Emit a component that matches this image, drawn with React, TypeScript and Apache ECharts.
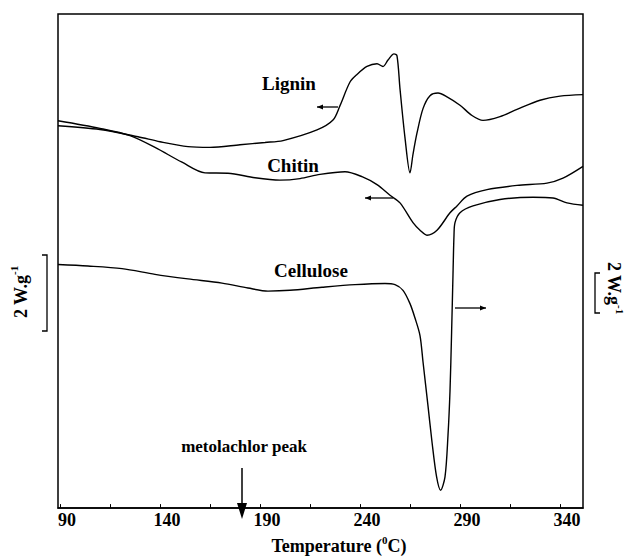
import React, { useEffect, useRef } from "react";
import * as echarts from "echarts";

// Temperature (°C) and heat flow (W/g, arbitrary offset)
const ligninT = [89, 110, 129, 140, 154, 165, 180, 192.5, 201.5, 218.5, 226.5, 230, 235, 238.5, 243.5, 248.5, 251.5, 254, 257, 258.5, 260, 262.5, 265, 266.5, 268.5, 271.5, 275, 279, 283.5, 290, 296, 301.5, 310, 318.5, 330, 340, 351.5];
const ligninV = [10.06, 9.96, 9.77, 9.64, 9.51, 9.49, 9.56, 9.62, 9.67, 9.95, 10.21, 10.59, 11.21, 11.41, 11.62, 11.69, 11.62, 11.79, 11.95, 11.9, 11.03, 9.74, 8.82, 9.31, 9.87, 10.51, 10.85, 10.92, 10.82, 10.6, 10.33, 10.2, 10.3, 10.49, 10.73, 10.84, 10.88];

const chitinT = [89, 110, 125, 137.5, 151, 162.5, 174, 187.5, 200, 210, 220, 232.5, 241, 248.5, 255, 260, 266.5, 270, 273.5, 278.5, 285, 288.5, 293.5, 303.5, 318.5, 333.5, 341.5, 351.5];
const chitinV = [10.19, 9.99, 9.8, 9.49, 9.1, 8.82, 8.81, 8.69, 8.63, 8.67, 8.78, 8.85, 8.72, 8.51, 8.23, 8.03, 7.51, 7.31, 7.18, 7.31, 7.77, 7.95, 8.21, 8.38, 8.49, 8.55, 8.68, 8.99];

const celluloseT = [89, 104, 121, 137.5, 154, 171, 184, 194, 205, 221, 237.5, 252.5, 257.5, 261.5, 265, 267.5, 270, 271.5, 274, 276, 278.3, 280.3, 282.5, 284, 285, 285.8, 286.5, 287, 287.5, 290, 296.5, 310, 326.5, 336.5, 343.5, 351.5];
const celluloseV = [6.41, 6.37, 6.3, 6.15, 6.03, 5.92, 5.79, 5.71, 5.73, 5.81, 5.88, 5.91, 5.88, 5.73, 5.38, 5.0, 4.54, 3.85, 2.69, 1.74, 0.82, 0.47, 0.82, 1.92, 3.08, 4.62, 6.15, 7.18, 7.51, 7.77, 7.95, 8.12, 8.18, 8.16, 8.03, 7.97];

const xLabelValues = [90, 140, 190, 240, 290, 340];
const xTickValues = [90, 115, 140, 165, 190, 215, 240, 265, 290, 315, 340];

const SERIF = '"Liberation Serif", "Times New Roman", serif';

function pairs(t: number[], v: number[]) {
  return t.map((x, i) => [x, v[i]]);
}

function arrowH(x1: number, x2: number, y: number, headLeft: boolean) {
  const tip = headLeft ? x1 : x2;
  const dir = headLeft ? 1 : -1;
  return [
    { type: "line", shape: { x1, y1: y, x2, y2: y }, style: { stroke: "#000", lineWidth: 1.3 }, silent: true },
    {
      type: "polygon",
      shape: { points: [[tip, y], [tip + dir * 6, y - 2.5], [tip + dir * 6, y + 2.5]] },
      style: { fill: "#000" },
      silent: true,
    },
  ];
}

export default function App() {
  const ref = useRef<HTMLDivElement>(null);

  useEffect(() => {
    if (!ref.current) return;
    const chart = echarts.init(ref.current, null, { renderer: "svg" });

    const lineSeries = (name: string, t: number[], v: number[]) => ({
      name,
      type: "line",
      data: pairs(t, v),
      showSymbol: false,
      smooth: 0.3,
      silent: true,
      lineStyle: { color: "#000", width: 1.4 },
    });

    const labelFont = (size: number) => `bold ${size}px ${SERIF}`;
    const sideLabel = (x: number, y: number, rotation: number) => ({
      type: "text",
      x,
      y,
      rotation,
      style: {
        text: "{a|2 W.g}{s|-1}",
        align: "center",
        verticalAlign: "middle",
        fill: "#000",
        rich: {
          a: { font: labelFont(18), fill: "#000", lineHeight: 21, verticalAlign: "bottom" },
          s: { font: labelFont(11), fill: "#000", lineHeight: 11, verticalAlign: "top" },
        },
      },
      silent: true,
    });

    const option: any = {
      animation: false,
      backgroundColor: "#fff",
      grid: {
        left: 58,
        top: 14,
        width: 525,
        height: 506,
        show: true,
        borderColor: "#000",
        borderWidth: 1.5,
        backgroundColor: "transparent",
      },
      xAxis: {
        type: "value",
        min: 89,
        max: 351.5,
        axisLine: { show: true, lineStyle: { color: "#000", width: 1.5 } },
        axisTick: {
          show: true,
          inside: true,
          length: 4,
          customValues: xTickValues,
          lineStyle: { color: "#000", width: 1 },
        },
        axisLabel: {
          customValues: xLabelValues,
          color: "#000",
          fontSize: 18,
          fontWeight: "bold",
          fontFamily: SERIF,
          margin: 3,
          padding: [0, 0, 0, 14],
        },
        splitLine: { show: false },
        name: "{a|Temperature (}{s|0}{a|C)}",
        nameLocation: "middle",
        nameGap: 24,
        nameTextStyle: {
          padding: [0, 0, 0, 37],
          rich: {
            a: { fontSize: 18, fontWeight: "bold", fontFamily: SERIF, color: "#000", lineHeight: 21, verticalAlign: "bottom" },
            s: { fontSize: 11, fontWeight: "bold", fontFamily: SERIF, color: "#000", lineHeight: 11, verticalAlign: "top" },
          },
        },
      },
      yAxis: {
        type: "value",
        min: 0,
        max: 13,
        axisLine: { show: false },
        axisTick: { show: false },
        axisLabel: { show: false },
        splitLine: { show: false },
      },
      series: [
        lineSeries("Lignin", ligninT, ligninV),
        lineSeries("Chitin", chitinT, chitinV),
        lineSeries("Cellulose", celluloseT, celluloseV),
      ],
      graphic: [
        { type: "text", x: 289, y: 83, style: { text: "Lignin", font: labelFont(19), fill: "#000", align: "center", verticalAlign: "middle" }, silent: true },
        { type: "text", x: 293, y: 165, style: { text: "Chitin", font: labelFont(19), fill: "#000", align: "center", verticalAlign: "middle" }, silent: true },
        { type: "text", x: 311, y: 270, style: { text: "Cellulose", font: labelFont(19), fill: "#000", align: "center", verticalAlign: "middle" }, silent: true },
        { type: "text", x: 244, y: 446, style: { text: "metolachlor peak", font: labelFont(17), fill: "#000", align: "center", verticalAlign: "middle" }, silent: true },
        ...arrowH(317, 338, 107, true),
        ...arrowH(365, 393, 198, true),
        ...arrowH(455, 486, 308, false),
        { type: "line", shape: { x1: 242, y1: 468, x2: 242, y2: 506 }, style: { stroke: "#000", lineWidth: 1.5 }, silent: true },
        { type: "polygon", shape: { points: [[237, 503], [247, 503], [242, 519]] }, style: { fill: "#000" }, silent: true },
        // scale bars
        { type: "polyline", shape: { points: [[42, 255], [47, 255], [47, 331], [42, 331]] }, style: { stroke: "#000", lineWidth: 1.3, fill: null }, silent: true },
        { type: "polyline", shape: { points: [[600, 273], [595, 273], [595, 313], [600, 313]] }, style: { stroke: "#000", lineWidth: 1.3, fill: null }, silent: true },
        sideLabel(19, 292, Math.PI / 2),
        sideLabel(615, 288, -Math.PI / 2),
      ],
    };

    chart.setOption(option);
    return () => chart.dispose();
  }, []);

  return (
    <div
      ref={ref}
      style={{ position: "fixed", left: 0, top: 0, width: 626, height: 560, background: "#fff" }}
    />
  );
}
